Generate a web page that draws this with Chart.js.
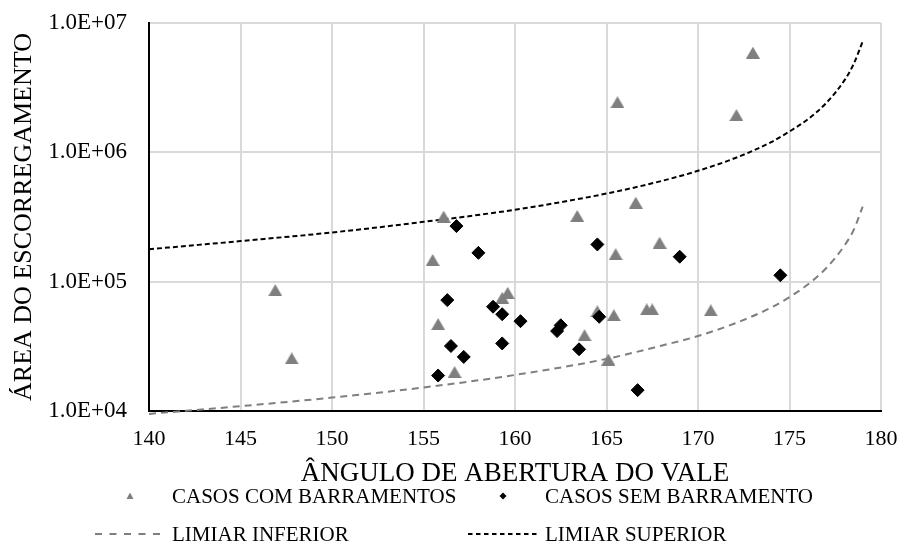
<!DOCTYPE html>
<html>
<head>
<meta charset="utf-8">
<script src="https://cdn.jsdelivr.net/npm/chart.js@4.4.1/dist/chart.umd.min.js"></script>
<style>
html,body{margin:0;padding:0;background:#ffffff;}
#wrap{width:900px;height:542px;position:relative;}
</style>
</head>
<body>
<div id="wrap"><canvas id="c" width="900" height="542"></canvas></div>
<script>
// ---- data ----
const xTickValues = [140, 145, 150, 155, 160, 165, 170, 175, 180];
const xTickLabels = ['140', '145', '150', '155', '160', '165', '170', '175', '180'];
const yTickValues = [1e4, 1e5, 1e6, 1e7];
const yTickLabels = ['1.0E+04', '1.0E+05', '1.0E+06', '1.0E+07'];
const xTitle = 'ÂNGULO DE ABERTURA DO VALE';
const yTitle = 'ÁREA DO ESCORREGAMENTO';
const seriesNames = ['CASOS COM BARRAMENTOS', 'CASOS SEM BARRAMENTO', 'LIMIAR INFERIOR', 'LIMIAR SUPERIOR'];

const withDamAngle = [146.9, 147.8, 155.5, 156.1, 155.8, 156.7, 159.3, 159.6, 163.4, 165.6, 166.6, 165.5, 167.9, 167.2, 167.5, 170.7, 165.4, 164.5, 163.8, 165.1, 172.1, 173.0];
const withDamArea  = [8.6e4, 2.55e4, 1.47e5, 3.18e5, 4.7e4, 2.0e4, 7.5e4, 8.2e4, 3.22e5, 2.44e6, 4.08e5, 1.63e5, 2.0e5, 6.1e4, 6.1e4, 6.0e4, 5.5e4, 5.9e4, 3.85e4, 2.5e4, 1.94e6, 5.9e6];

const withoutDamAngle = [156.8, 158.0, 156.3, 158.8, 159.3, 160.3, 159.3, 156.5, 157.2, 155.8, 164.5, 169.0, 174.5, 162.5, 162.3, 164.6, 163.5, 166.7];
const withoutDamArea  = [2.69e5, 1.67e5, 7.2e4, 6.4e4, 5.6e4, 4.95e4, 3.33e4, 3.18e4, 2.62e4, 1.88e4, 1.94e5, 1.56e5, 1.12e5, 4.6e4, 4.15e4, 5.35e4, 3.0e4, 1.45e4];

const lowerAngle = [140, 145, 150, 155, 160, 165, 168, 170, 172, 174, 175, 176, 177, 178, 178.5, 179];
const lowerArea  = [9.5e3, 1.09e4, 1.27e4, 1.52e4, 1.9e4, 2.53e4, 3.2e4, 3.8e4, 4.75e4, 6.3e4, 7.6e4, 9.5e4, 1.27e5, 1.9e5, 2.5e5, 3.8e5];

const upperAngle = [140, 145, 150, 155, 160, 165, 168, 170, 172, 174, 175, 176, 177, 178, 178.5, 179];
const upperArea  = [1.78e5, 2.06e5, 2.4e5, 2.9e5, 3.6e5, 4.8e5, 6.0e5, 7.2e5, 9.0e5, 1.2e6, 1.45e6, 1.8e6, 2.4e6, 3.6e6, 4.8e6, 7.2e6];

// ---- helpers ----
function toPoints(xs, ys) { return xs.map((x, i) => ({ x: x, y: ys[i] })); }

const GRAY = '#7f7f7f';
const SERIF = '"Liberation Serif", "Times New Roman", serif';

// triangle marker, centred on its bounding box
function makeTriangle(w, h, color) {
  const cv = document.createElement('canvas');
  cv.width = w; cv.height = h;
  const g = cv.getContext('2d');
  g.fillStyle = color;
  g.beginPath();
  g.moveTo(w / 2, 0);
  g.lineTo(w, h);
  g.lineTo(0, h);
  g.closePath();
  g.fill();
  return cv;
}
const triMarker = makeTriangle(14, 12, GRAY);

const legendPlugin = {
  id: 'bottomLegend',
  afterDraw(chart) {
    const ctx = chart.ctx;
    const ds = chart.data.datasets;
    ctx.save();
    ctx.font = '21px ' + SERIF;
    ctx.fillStyle = '#000';
    ctx.textBaseline = 'alphabetic';
    ctx.textAlign = 'left';
    // row 1: markers
    ctx.fillStyle = ds[0].backgroundColor;
    ctx.beginPath();
    ctx.moveTo(130, 492.5); ctx.lineTo(133.5, 499); ctx.lineTo(126.5, 499); ctx.closePath(); ctx.fill();
    ctx.fillStyle = '#000';
    ctx.fillText(ds[0].label, 172, 503);
    ctx.fillStyle = ds[1].backgroundColor;
    ctx.beginPath();
    ctx.moveTo(503, 492.5); ctx.lineTo(506.5, 496); ctx.lineTo(503, 499.5); ctx.lineTo(499.5, 496); ctx.closePath(); ctx.fill();
    ctx.fillStyle = '#000';
    ctx.fillText(ds[1].label, 545, 503);
    // row 2: lines
    ctx.lineWidth = 2;
    ctx.strokeStyle = ds[2].borderColor;
    ctx.setLineDash([7, 7.5]);
    ctx.beginPath(); ctx.moveTo(95, 534); ctx.lineTo(160, 534); ctx.stroke();
    ctx.fillText(ds[2].label, 172, 541);
    ctx.strokeStyle = ds[3].borderColor;
    ctx.setLineDash([4.5, 3.5]);
    ctx.beginPath(); ctx.moveTo(468, 534); ctx.lineTo(537, 534); ctx.stroke();
    ctx.setLineDash([]);
    ctx.fillText(ds[3].label, 545, 541);
    ctx.restore();
  }
};

new Chart(document.getElementById('c'), {
  type: 'scatter',
  data: {
    datasets: [
      {
        label: seriesNames[0],
        data: toPoints(withDamAngle, withDamArea),
        pointStyle: triMarker,
        backgroundColor: GRAY,
        borderColor: GRAY,
        pointRadius: 7,
        order: 2
      },
      {
        label: seriesNames[1],
        data: toPoints(withoutDamAngle, withoutDamArea),
        pointStyle: 'rectRot',
        backgroundColor: '#000000',
        borderColor: '#000000',
        borderWidth: 1,
        pointRadius: 6.5,
        order: 1
      },
      {
        label: seriesNames[2],
        data: toPoints(lowerAngle, lowerArea),
        showLine: true,
        pointRadius: 0,
        borderColor: GRAY,
        borderWidth: 2,
        borderDash: [7, 5],
        cubicInterpolationMode: 'monotone',
        fill: false,
        clip: { left: 2, top: 2, right: 2, bottom: 4 },
        order: 4
      },
      {
        label: seriesNames[3],
        data: toPoints(upperAngle, upperArea),
        showLine: true,
        pointRadius: 0,
        borderColor: '#000000',
        borderWidth: 2,
        borderDash: [5, 3],
        cubicInterpolationMode: 'monotone',
        fill: false,
        order: 3
      }
    ]
  },
  options: {
    responsive: false,
    animation: false,
    events: [],
    layout: { padding: { left: 0, right: 19, top: 23, bottom: 52 } },
    plugins: {
      legend: { display: false },
      tooltip: { enabled: false },
      title: { display: false }
    },
    scales: {
      x: {
        type: 'linear',
        min: 140,
        max: 180,
        afterBuildTicks: (s) => { s.ticks = xTickValues.map(v => ({ value: v })); },
        afterFit: (s) => { s.height = 79; s.paddingLeft = 0; s.paddingRight = 0; },
        ticks: {
          callback: (v) => { const i = xTickValues.indexOf(v); return i >= 0 ? xTickLabels[i] : ''; },
          font: { family: SERIF, size: 22 },
          color: '#000',
          padding: 15,
          maxRotation: 0,
          autoSkip: false
        },
        grid: { color: '#d9d9d9', lineWidth: 2, drawTicks: false },
        border: { color: '#000', width: 2 },
        title: {
          display: true,
          text: xTitle,
          font: { family: SERIF, size: 27 },
          color: '#000',
          padding: { top: 0, bottom: 0 }
        }
      },
      y: {
        type: 'logarithmic',
        min: 1e4,
        max: 1e7,
        afterBuildTicks: (s) => { s.ticks = yTickValues.map(v => ({ value: v })); },
        afterFit: (s) => { s.width = 149; s.paddingTop = 0; s.paddingBottom = 0; },
        ticks: {
          callback: (v) => { const i = yTickValues.indexOf(v); return i >= 0 ? yTickLabels[i] : ''; },
          font: { family: SERIF, size: 23 },
          color: '#000',
          padding: 22,
          autoSkip: false
        },
        grid: { color: '#d9d9d9', lineWidth: 2, drawTicks: false },
        border: { color: '#000', width: 2 },
        title: {
          display: true,
          text: yTitle,
          font: { family: SERIF, size: 26 },
          color: '#000',
          padding: { top: 9, bottom: 0 }
        }
      }
    }
  },
  plugins: [legendPlugin]
});
</script>
</body>
</html>
